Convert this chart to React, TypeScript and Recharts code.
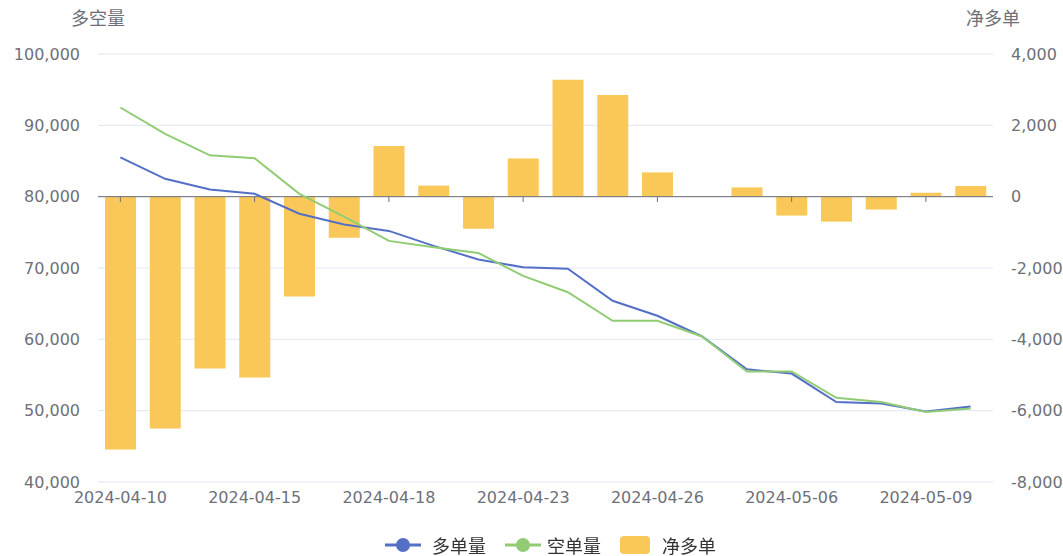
import React from 'react';
import { ComposedChart, Bar, Line, XAxis, YAxis, CartesianGrid, ReferenceLine } from 'recharts';

const dates = ['2024-04-10','2024-04-11','2024-04-12','2024-04-15','2024-04-16','2024-04-17','2024-04-18','2024-04-19','2024-04-22','2024-04-23','2024-04-24','2024-04-25','2024-04-26','2024-04-29','2024-04-30','2024-05-06','2024-05-07','2024-05-08','2024-05-09','2024-05-10'];
const longVol = [85500,82500,81000,80400,77600,76100,75200,73100,71200,70100,69900,65400,63300,60400,55800,55200,51200,51000,49900,50600];
const shortVol = [92500,88800,85800,85400,80400,77200,73800,72900,72100,68900,66600,62600,62600,60400,55500,55500,51800,51200,49800,50300];
const netLong = [-7090,-6500,-4820,-5070,-2800,-1150,1420,310,-900,1070,3280,2850,680,15,260,-530,-700,-360,110,300];
const leftTicks = [40000,50000,60000,70000,80000,90000,100000];
const rightTicks = [-8000,-6000,-4000,-2000,0,2000,4000];
const tickDates = ['2024-04-10','2024-04-15','2024-04-18','2024-04-23','2024-04-26','2024-05-06','2024-05-09'];

const data = dates.map((d, i) => ({ date: d, long: longVol[i], short: shortVol[i], net: netLong[i] }));

const NUMFONT = '"DejaVu Sans", "Noto Sans CJK SC", sans-serif';
const CJK = '"Noto Sans CJK SC", sans-serif';
const GRAY = '#6E7079';
const fmt = (v: number) => v.toLocaleString('en-US');

export default function App() {
  return (
    <div style={{ position: 'fixed', left: 0, top: 0, width: 1063, height: 556, background: '#fff', fontFamily: CJK }}>
      <ComposedChart width={1063} height={556} data={data} margin={{ top: 54, right: 0, bottom: 44, left: 0 }}>
        <CartesianGrid yAxisId="left" vertical={false} stroke="#E0E6F1" />
        <XAxis dataKey="date" interval={2} tickLine={false} axisLine={false} height={30}
          tick={{ fill: GRAY, fontSize: 16, fontFamily: NUMFONT }} tickMargin={4} />
        <YAxis yAxisId="left" width={98} domain={[40000, 100000]} ticks={leftTicks} tickFormatter={fmt}
          axisLine={false} tickLine={false} tickMargin={12} tick={{ fill: GRAY, fontSize: 16, fontFamily: NUMFONT }}
          label={({ viewBox }: any) => (
            <text x={viewBox.x + viewBox.width} y={viewBox.y - 29} textAnchor="middle" fill={GRAY} fontSize={18} fontFamily={CJK}>多空量</text>
          )} />
        <YAxis yAxisId="right" orientation="right" width={70} domain={[-8000, 4000]} ticks={rightTicks} tickFormatter={fmt}
          axisLine={false} tickLine={false} tickMargin={12} tick={{ fill: GRAY, fontSize: 16, fontFamily: NUMFONT, textAnchor: 'start' } as any}
          label={({ viewBox }: any) => (
            <text x={viewBox.x} y={viewBox.y - 29} textAnchor="middle" fill={GRAY} fontSize={18} fontFamily={CJK}>净多单</text>
          )} />
        <Bar yAxisId="right" dataKey="net" name="净多单" fill="#FAC858" barSize={31} isAnimationActive={false} />
        <ReferenceLine yAxisId="right" y={0} stroke={GRAY} strokeWidth={1} />
        {tickDates.map((d) => (
          <ReferenceLine key={d} yAxisId="right" segment={[{ x: d, y: 0 }, { x: d, y: -150 }]} stroke={GRAY} strokeWidth={1} />
        ))}
        <Line yAxisId="left" dataKey="long" name="多单量" stroke="#5470C6" strokeWidth={2} dot={false} isAnimationActive={false} />
        <Line yAxisId="left" dataKey="short" name="空单量" stroke="#91CC75" strokeWidth={2} dot={false} isAnimationActive={false} />
      </ComposedChart>
      <div style={{ position: 'absolute', left: 385, top: 533, height: 24, display: 'flex', alignItems: 'center', fontSize: 18, color: '#333', lineHeight: '24px' }}>
        <svg width={36} height={24} style={{ marginRight: 11 }}>
          <line x1={0} y1={12} x2={36} y2={12} stroke="#5470C6" strokeWidth={3} />
          <circle cx={18} cy={12} r={7} fill="#5470C6" />
        </svg>
        <span style={{ width: 73 }}>多单量</span>
        <svg width={36} height={24} style={{ marginRight: 6 }}>
          <line x1={0} y1={12} x2={36} y2={12} stroke="#91CC75" strokeWidth={3} />
          <circle cx={18} cy={12} r={7} fill="#91CC75" />
        </svg>
        <span style={{ width: 73 }}>空单量</span>
        <svg width={30} height={24} style={{ marginRight: 12 }}>
          <rect x={0} y={3} width={30} height={18} rx={4} fill="#FAC858" />
        </svg>
        <span>净多单</span>
      </div>
    </div>
  );
}
